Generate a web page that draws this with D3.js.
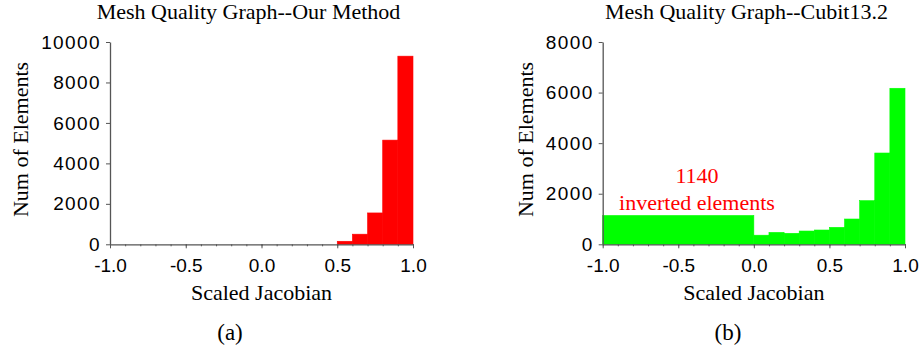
<!DOCTYPE html>
<html>
<head>
<meta charset="utf-8">
<script src="https://cdn.jsdelivr.net/npm/d3@7"></script>
<style>
  html, body { margin: 0; padding: 0; background: #fff; }
  svg { display: block; }
  .serif { font-family: "Liberation Serif", "Times New Roman", Times, "DejaVu Serif", serif; }
  .sans { font-family: "Liberation Sans", Arial, Helvetica, sans-serif; }
</style>
</head>
<body>
<svg id="fig" width="919" height="351"></svg>
<script>
// Histogram bins of the scaled Jacobian, [x0, x1) with element counts
const binsOurMethod = [
  { x0: 0.5, x1: 0.6, count: 150 },
  { x0: 0.6, x1: 0.7, count: 500 },
  { x0: 0.7, x1: 0.8, count: 1550 },
  { x0: 0.8, x1: 0.9, count: 5150 },
  { x0: 0.9, x1: 1.0, count: 9300 }
];
const binsCubit = [
  { x0: -1.0, x1: 0.0, count: 1140 },
  { x0: 0.0, x1: 0.1, count: 360 },
  { x0: 0.1, x1: 0.2, count: 470 },
  { x0: 0.2, x1: 0.3, count: 435 },
  { x0: 0.3, x1: 0.4, count: 525 },
  { x0: 0.4, x1: 0.5, count: 565 },
  { x0: 0.5, x1: 0.6, count: 670 },
  { x0: 0.6, x1: 0.7, count: 1000 },
  { x0: 0.7, x1: 0.8, count: 1725 },
  { x0: 0.8, x1: 0.9, count: 3610 },
  { x0: 0.9, x1: 1.0, count: 6170 }
];
const xMajorTicks = [-1.0, -0.5, 0.0, 0.5, 1.0];
const xMinorTicks = d3.range(-10, 11).map(i => i / 10);
const yTicksOurMethod = [0, 2000, 4000, 6000, 8000, 10000];
const yTicksCubit = [0, 2000, 4000, 6000, 8000];
const invertedCount = 1140;

const svg = d3.select("#fig");
const axisColor = "#555";
const labelSize = "22px";

function drawPanel(cfg) {
  const g = svg.append("g");
  const x = d3.scaleLinear().domain([-1, 1]).range([cfg.left, cfg.right]);
  const y = d3.scaleLinear().domain([0, cfg.yMax]).range([cfg.bottom, cfg.top]);

  // bars
  g.selectAll("rect.bar").data(cfg.bins).join("rect")
    .attr("class", "bar")
    .attr("x", d => x(d.x0))
    .attr("width", d => x(d.x1) - x(d.x0))
    .attr("y", d => y(d.count))
    .attr("height", d => y(0) - y(d.count))
    .attr("fill", cfg.color)
    .attr("stroke", cfg.color)
    .attr("stroke-width", 0.6);

  // minor x ticks
  g.append("g")
    .attr("transform", `translate(0,${cfg.bottom})`)
    .call(d3.axisBottom(x).tickValues(xMinorTicks).tickSize(2).tickFormat(""))
    .call(a => a.select(".domain").remove())
    .call(a => a.selectAll("line").attr("stroke", axisColor));

  // major x axis
  g.append("g")
    .attr("transform", `translate(0,${cfg.bottom})`)
    .call(d3.axisBottom(x).tickValues(xMajorTicks).tickSize(4).tickSizeOuter(0)
      .tickFormat(d => d3.format(".1f")(d).replace("\u2212", "-")).tickPadding(10))
    .call(a => a.attr("font-family", null).attr("font-size", null))
    .call(a => a.select(".domain").attr("stroke", axisColor).attr("stroke-width", 1.3))
    .call(a => a.selectAll("line").attr("stroke", axisColor))
    .call(a => a.selectAll("text").attr("class", "sans")
      .style("font-size", "19px").attr("fill", "#000"));

  // y axis
  g.append("g")
    .attr("transform", `translate(${cfg.left},0)`)
    .call(d3.axisLeft(y).tickValues(cfg.yTicks).tickSize(4).tickSizeOuter(0)
      .tickFormat(d3.format("d")).tickPadding(5))
    .call(a => a.attr("font-family", null).attr("font-size", null))
    .call(a => a.select(".domain").attr("stroke", axisColor).attr("stroke-width", 1.3))
    .call(a => a.selectAll("line").attr("stroke", axisColor))
    .call(a => a.selectAll("text").attr("class", "sans")
      .style("font-size", "19px").style("letter-spacing", "1.4px").attr("fill", "#000"));

  // title
  g.append("text").attr("class", "serif")
    .attr("x", cfg.titleX).attr("y", 19)
    .attr("text-anchor", "middle")
    .style("font-size", labelSize)
    .text(cfg.title);

  // x axis label
  g.append("text").attr("class", "serif")
    .attr("x", (cfg.left + cfg.right) / 2).attr("y", 300)
    .attr("text-anchor", "middle")
    .style("font-size", labelSize)
    .text("Scaled Jacobian");

  // y axis label
  g.append("text").attr("class", "serif")
    .attr("transform", `translate(${cfg.yLabelX},${139.5}) rotate(-90)`)
    .attr("text-anchor", "middle")
    .style("font-size", labelSize)
    .text("Num of Elements");

  // panel caption
  g.append("text").attr("class", "serif")
    .attr("x", cfg.captionX).attr("y", 340)
    .attr("text-anchor", "middle")
    .style("font-size", "23px")
    .text(cfg.caption);

  return { g, x, y };
}

drawPanel({
  bins: binsOurMethod, color: "#ff0000", yMax: 10000, yTicks: yTicksOurMethod,
  left: 110, right: 413, top: 42, bottom: 244.3,
  title: "Mesh Quality Graph--Our Method", titleX: 248.5,
  yLabelX: 28, caption: "(a)", captionX: 230
});

const pb = drawPanel({
  bins: binsCubit, color: "#00ff00", yMax: 8000, yTicks: yTicksCubit,
  left: 602.7, right: 905, top: 42, bottom: 244.3,
  title: "Mesh Quality Graph--Cubit13.2", titleX: 746.5,
  yLabelX: 533, caption: "(b)", captionX: 728
});

// annotation above the inverted-element bin
const inv = binsCubit[0];
const annX = 697;
pb.g.append("text").attr("class", "serif")
  .attr("x", annX).attr("y", pb.y(inv.count) - 32)
  .attr("text-anchor", "middle")
  .style("font-size", labelSize).attr("fill", "#ff0000")
  .text(String(invertedCount));
pb.g.append("text").attr("class", "serif")
  .attr("x", annX).attr("y", pb.y(inv.count) - 5)
  .attr("text-anchor", "middle")
  .style("font-size", labelSize).attr("fill", "#ff0000")
  .text("inverted elements");
</script>
</body>
</html>
